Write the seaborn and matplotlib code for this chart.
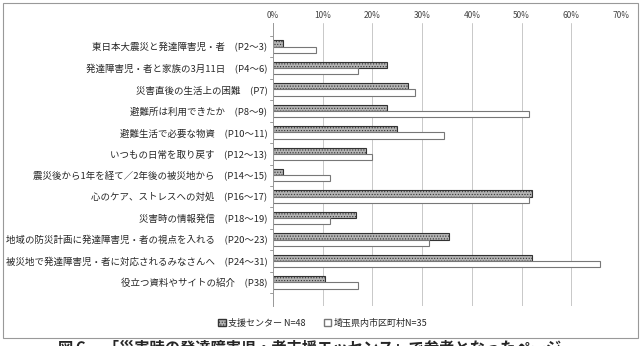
import pandas as pd
import matplotlib
matplotlib.use("Agg")
import matplotlib.pyplot as plt
import matplotlib.patches as mpatches
import seaborn as sns
from matplotlib.ticker import PercentFormatter

pages = [
    "東日本大震災と発達障害児・者　(P2～3)",
    "発達障害児・者と家族の3月11日　(P4～6)",
    "災害直後の生活上の困難　(P7)",
    "避難所は利用できたか　(P8～9)",
    "避難生活で必要な物資　(P10～11)",
    "いつもの日常を取り戻す　(P12～13)",
    "震災後から1年を経て／2年後の被災地から　(P14～15)",
    "心のケア、ストレスへの対処　(P16～17)",
    "災害時の情報発信　(P18～19)",
    "地域の防災計画に発達障害児・者の視点を入れる　(P20～23)",
    "被災地で発達障害児・者に対応されるみなさんへ　(P24～31)",
    "役立つ資料やサイトの紹介　(P38)",
]
center_pct = [2.1, 22.9, 27.1, 22.9, 25.0, 18.8, 2.1, 52.1, 16.7, 35.4, 52.1, 10.4]
city_pct = [8.6, 17.1, 28.6, 51.4, 34.3, 20.0, 11.4, 51.4, 11.4, 31.4, 65.7, 17.1]
series = ["支援センター N=48", "埼玉県内市区町村N=35"]

df = pd.DataFrame({
    "page": pages * 2,
    "pct": center_pct + city_pct,
    "group": [series[0]] * len(pages) + [series[1]] * len(pages),
})

sns.set_theme(style="white")
plt.rcParams['font.family'] = ['Noto Sans CJK JP', 'DejaVu Sans']
plt.rcParams['hatch.color'] = '#555555'
plt.rcParams['hatch.linewidth'] = 0.5

fig = plt.figure(figsize=(6.41, 3.46), dpi=100)
ax = fig.add_axes([273 / 641, 1 - 306 / 346, 348 / 641, 283 / 346])

sns.barplot(data=df, x="pct", y="page", hue="group", order=pages, hue_order=series,
            palette=["#b4b4b4", "white"], width=0.58, ax=ax, legend=False,
            linewidth=0.8, gap=0)

n = len(pages)
for i, p in enumerate(ax.patches[:2 * n]):
    if i < n:
        p.set_edgecolor("#333333")
        p.set_hatch("......")
    else:
        p.set_edgecolor("#777777")

ax.set_xlim(0, 70)
ax.set_xticks(range(0, 71, 10))
ax.xaxis.set_major_formatter(PercentFormatter(decimals=0))
ax.xaxis.tick_top()
ax.tick_params(axis="x", labelsize=6, pad=2, length=0, colors="#444444")
ax.tick_params(axis="y", labelsize=6.8, pad=4, length=0)
ax.grid(axis="x", color="#c8c8c8", linewidth=0.7)
ax.set_axisbelow(True)
ax.set_xlabel("")
ax.set_ylabel("")
for s in ["top", "right", "bottom"]:
    ax.spines[s].set_visible(False)
ax.spines["left"].set_color("#999999")
ax.spines["left"].set_linewidth(0.7)
# small tick marks between categories on the value axis
for k in range(n + 1):
    ax.plot([-0.6, 0], [k - 0.5, k - 0.5], color="#999999", lw=0.7, clip_on=False)

handles = [
    mpatches.Patch(facecolor="#b4b4b4", edgecolor="#333333", hatch="......", label=series[0]),
    mpatches.Patch(facecolor="white", edgecolor="#777777", label=series[1]),
]
fig.legend(handles=handles, loc="center", bbox_to_anchor=(323 / 641, 1 - 323 / 346),
           ncol=2, frameon=False, fontsize=6.5, handlelength=0.8, handleheight=0.8,
           handletextpad=0.3, columnspacing=2.0)

border = mpatches.Rectangle((3 / 641, 1 - 338 / 346), 635 / 641, 335 / 346,
                            transform=fig.transFigure, fill=False,
                            edgecolor="#999999", linewidth=0.8)
fig.patches.append(border)

fig.text(310 / 641, 1 - 339 / 346, "図６　「災害時の発達障害児・者支援エッセンス」で参考となったページ",
         ha="center", va="top", fontsize=11, fontweight="bold")

fig.savefig("out.png", dpi=100)
